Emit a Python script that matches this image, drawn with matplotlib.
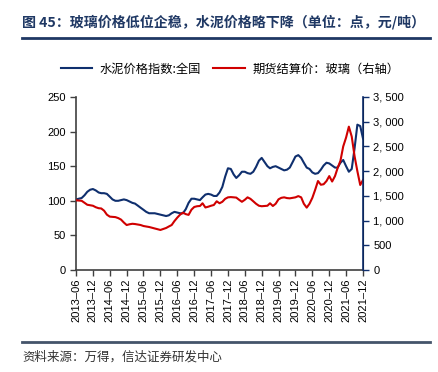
import matplotlib
matplotlib.use("Agg")
import matplotlib.pyplot as plt
import pandas as pd
from matplotlib.lines import Line2D
from matplotlib.ticker import FuncFormatter

plt.rcParams['font.family'] = ['Liberation Sans', 'Noto Sans CJK SC', 'DejaVu Sans']

# monthly, 2013-06 .. 2021-12
dates = pd.date_range("2013-06-01", periods=103, freq="MS")

cement_index = [
    102, 103, 104, 108, 113, 116, 117, 115, 112, 111,
    111, 110, 106, 102, 100, 100, 101, 102, 101, 99,
    97, 96, 93, 90, 87, 84, 82, 82, 82, 81,
    80, 79, 78, 79, 82, 84, 83, 82, 82, 88,
    97, 103, 103, 102, 101, 105, 109, 110, 109, 107,
    107, 112, 120, 135, 147, 146, 138, 133, 137, 142,
    142, 140, 139, 142, 149, 158, 162, 156, 150, 147,
    149, 150, 148, 146, 144, 145, 148, 156, 164, 166,
    162, 155, 148, 146, 141, 139, 140, 145, 151, 155,
    154, 151, 148, 148, 155, 159, 150, 142, 146, 176,
    210, 208, 190,
]

glass_futures = [
    1410, 1405, 1400, 1360, 1320, 1310, 1300, 1270, 1250, 1245,
    1200, 1120, 1080, 1075, 1070, 1050, 1020, 960, 910, 925,
    935, 930, 920, 910, 890, 880, 870, 855, 840, 825,
    810, 830, 850, 880, 910, 990, 1060, 1120, 1160, 1130,
    1115, 1220, 1275, 1290, 1295, 1350, 1265, 1280, 1300, 1315,
    1390, 1350, 1380, 1440, 1470, 1475, 1470, 1465, 1420, 1380,
    1420, 1470, 1440, 1390, 1340, 1300, 1290, 1295, 1300, 1350,
    1295, 1340, 1430, 1460, 1470, 1455, 1450, 1460, 1470, 1495,
    1470, 1340, 1262, 1340, 1460, 1620, 1800, 1725, 1735, 1800,
    1900, 1790, 1900, 2060, 2210, 2500, 2680, 2900, 2700, 2300,
    2000, 1720, 1820,
]

left_ticks = [0, 50, 100, 150, 200, 250]
right_ticks = [0, 500, 1000, 1500, 2000, 2500, 3000, 3500]

NAVY = "#0f2f6e"
RED = "#d00000"
TITLE_C = "#1f3864"

fig = plt.figure(figsize=(4.39, 3.72), dpi=100)
ax = fig.add_axes([76 / 439, 1 - 270 / 372, 287 / 439, 173 / 372])
ax2 = ax.twinx()

l1, = ax.plot(dates, cement_index, color=NAVY, lw=1.5, label="水泥价格指数:全国")
l2, = ax2.plot(dates, glass_futures, color=RED, lw=1.5, label="期货结算价：玻璃（右轴）")

ax.set_xlim(dates[0], dates[-1])
ax.set_ylim(0, 250)
ax2.set_ylim(0, 3500)
ax.set_yticks(left_ticks)
ax2.set_yticks(right_ticks)
ax2.yaxis.set_major_formatter(FuncFormatter(lambda v, p: f"{int(v):,}".replace(",", ", ")))

xt = dates[::6]
ax.set_xticks(xt)
ax.set_xticklabels([d.strftime("%Y–%m") for d in xt], rotation=90, fontsize=8)

for a in (ax, ax2):
    a.spines["top"].set_visible(False)
    a.tick_params(axis="y", labelsize=8, length=4, width=1, direction="out")
ax.tick_params(axis="x", length=4, width=1, direction="out", pad=2)
ax.spines["left"].set_color("#404040")
ax.spines["bottom"].set_color("#404040")
ax.spines["left"].set_linewidth(1.2)
ax.spines["bottom"].set_linewidth(1.2)
ax2.spines["left"].set_visible(False)
ax2.spines["bottom"].set_visible(False)
ax2.spines["right"].set_color(NAVY)
ax2.spines["right"].set_linewidth(1.2)
ax2.tick_params(axis="y", colors=NAVY, labelcolor="black")
ax.tick_params(axis="y", colors="#404040", labelcolor="black")
ax.tick_params(axis="x", colors="#404040", labelcolor="black")

fig.legend(handles=[l1, l2], loc="center", bbox_to_anchor=(230 / 439, 1 - 69 / 372),
           ncol=2, frameon=False, handlelength=2.6, handletextpad=0.6, columnspacing=1.0,
           prop={"family": ["Noto Sans CJK SC"], "size": 8.8})

fig.text(22 / 439, 1 - 22 / 372, "图 45：玻璃价格低位企稳，水泥价格略下降（单位：点，元/吨）",
         ha="left", va="center", fontsize=10.1, fontweight="bold", color=TITLE_C,
         family=["Noto Sans CJK SC"])
fig.add_artist(Line2D([22 / 439, 430 / 439], [1 - 38 / 372] * 2, color=TITLE_C, lw=2))
fig.add_artist(Line2D([22 / 439, 430 / 439], [1 - 342 / 372] * 2, color="#44546a", lw=2))
fig.text(22 / 439, 1 - 357 / 372, "资料来源：万得，信达证券研发中心",
         ha="left", va="center", fontsize=9, style="italic", color="#333333",
         family=["Noto Sans CJK SC"])

fig.savefig("out.png", dpi=100)
